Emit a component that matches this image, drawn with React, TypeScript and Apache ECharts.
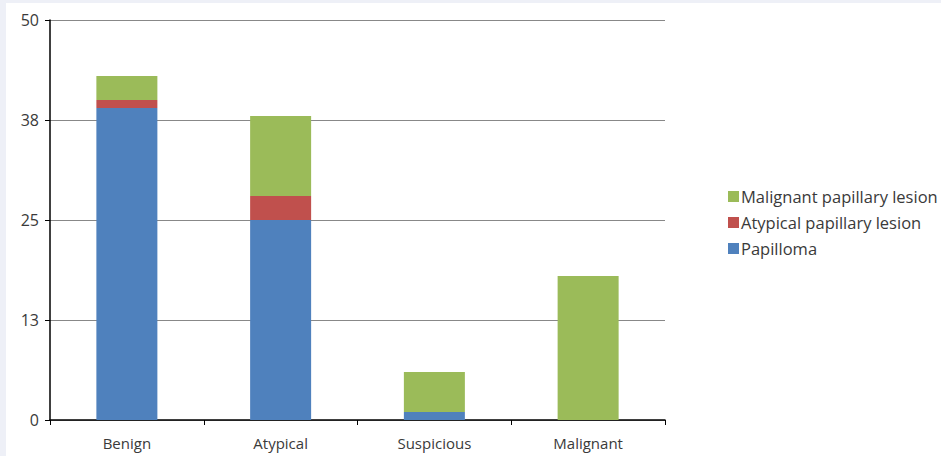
import React, { useEffect, useRef } from "react";
import * as echarts from "echarts";

const categories = ["Benign", "Atypical", "Suspicious", "Malignant"];
const papilloma = [39, 25, 1, 0];
const atypicalLesion = [1, 3, 0, 0];
const malignantLesion = [3, 10, 5, 18];
const yTicks = [0, 12.5, 25, 37.5, 50];

const FONT = "'Open Sans', Lato, sans-serif";

export default function App() {
  const ref = useRef<HTMLDivElement>(null);
  useEffect(() => {
    document.body.style.margin = "0";
    const chart = echarts.init(ref.current!, null, { renderer: "svg" });
    chart.setOption({
      animation: false,
      backgroundColor: "#ffffff",
      textStyle: { fontFamily: FONT },
      grid: { left: 44, top: 17, width: 615, height: 400, containLabel: false },
      legend: {
        orient: "vertical",
        left: 717,
        top: 180,
        itemWidth: 11,
        itemHeight: 11,
        itemGap: 9,
        icon: "rect",
        data: ["Malignant papillary lesion", "Atypical papillary lesion", "Papilloma"],
        textStyle: {
          fontSize: 16.5,
          lineHeight: 16,
          color: "#3a3a3a",
          fontFamily: FONT,
          padding: [0, 0, 0, -3],
        },
      },
      xAxis: {
        type: "category",
        data: categories,
        axisLine: { lineStyle: { color: "#000000", width: 1.5 } },
        axisTick: { show: true, length: 5, inside: false, lineStyle: { color: "#000000" } },
        axisLabel: { fontSize: 15, color: "#3a3a3a", margin: 15, fontFamily: FONT },
      },
      yAxis: {
        type: "value",
        min: yTicks[0],
        max: yTicks[yTicks.length - 1],
        interval: yTicks[1] - yTicks[0],
        axisLine: { show: true, lineStyle: { color: "#000000", width: 1.5 } },
        axisTick: { show: true, length: 5, lineStyle: { color: "#000000" } },
        splitLine: { lineStyle: { color: "#888888", width: 1.2 } },
        axisLabel: {
          fontSize: 16,
          color: "#3a3a3a",
          margin: 11,
          fontFamily: FONT,
          formatter: (v: number) => String(Math.round(v)),
        },
      },
      series: [
        {
          name: "Papilloma",
          type: "bar",
          stack: "s",
          data: papilloma,
          barWidth: 61,
          itemStyle: { color: "#4F81BD" },
        },
        {
          name: "Atypical papillary lesion",
          type: "bar",
          stack: "s",
          data: atypicalLesion,
          barWidth: 61,
          itemStyle: { color: "#C0504D" },
        },
        {
          name: "Malignant papillary lesion",
          type: "bar",
          stack: "s",
          data: malignantLesion,
          barWidth: 61,
          itemStyle: { color: "#9BBB59" },
        },
      ],
    });
    return () => chart.dispose();
  }, []);
  return (
    <div style={{ width: 941, height: 456, background: "#eef0f7", position: "relative" }}>
      <div
        ref={ref}
        style={{ position: "absolute", left: 6, top: 3, width: 935, height: 453 }}
      />
    </div>
  );
}
